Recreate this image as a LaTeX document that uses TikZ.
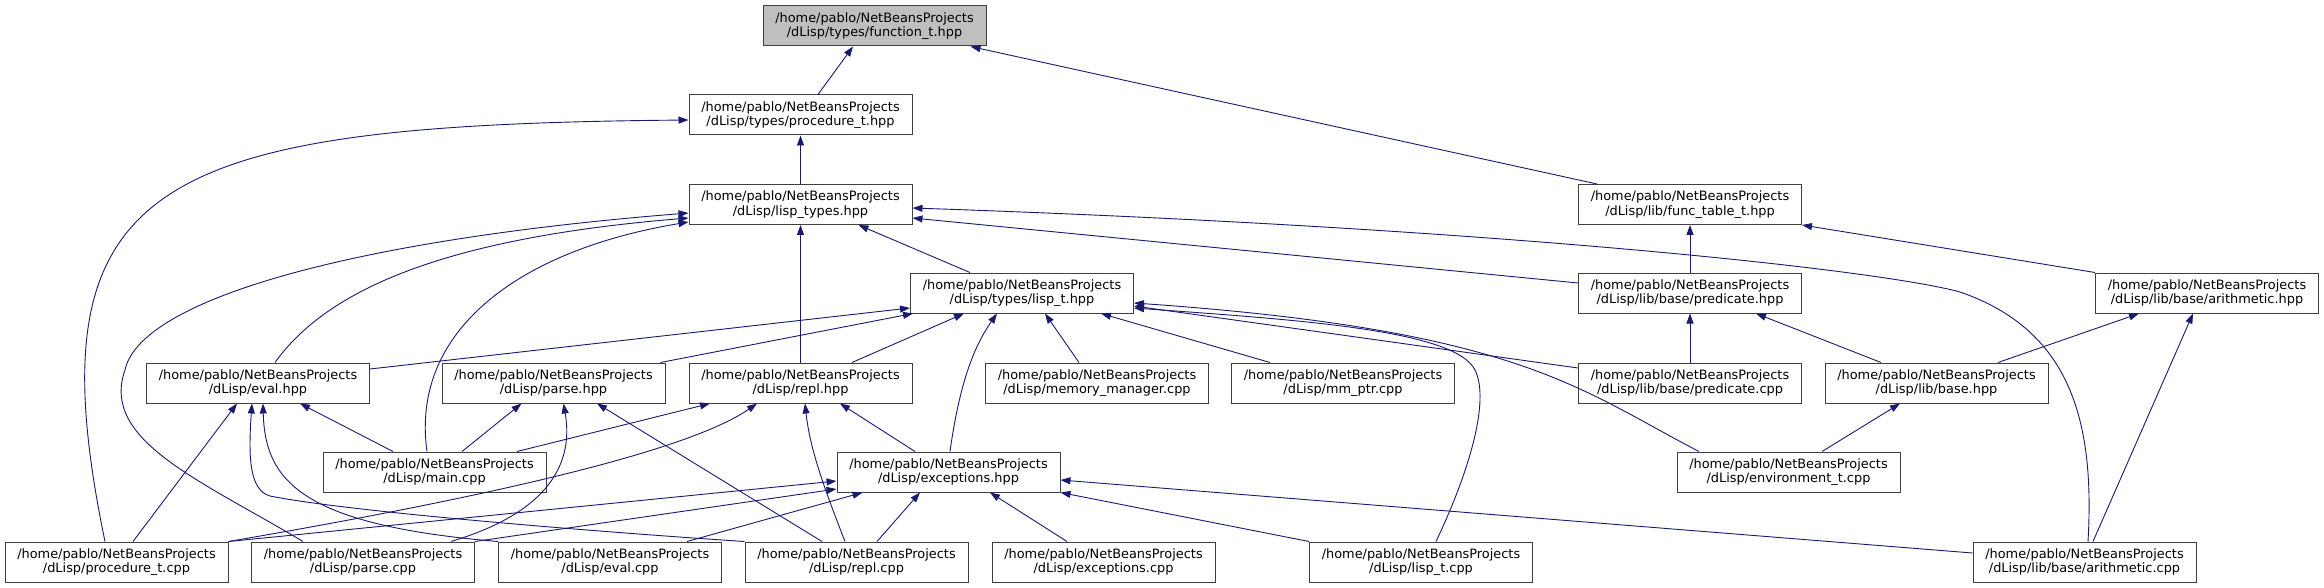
\documentclass[tikz,border=0pt]{standalone}
\usepackage{fontspec}
\setmainfont{DejaVu Sans}
\usepackage{xcolor}
\usepackage{tikz}
\usetikzlibrary{arrows.meta}

\definecolor{edgeblue}{HTML}{191970}

\begin{document}
\begin{tikzpicture}[x=1pt, y=-1pt, >={Triangle[length=10pt, width=7pt]},
    file/.style={draw=black!75, line width=1pt, fill=white, minimum width=223pt,
        minimum height=40pt, inner sep=0pt, align=center,
        font=\fontsize{12.9}{14.5}\selectfont},
    dep/.style={->, edgeblue, line width=0.9pt}]
    \useasboundingbox (0,0) rectangle (2324,588);

    % headers
    \node[file, fill=black!25] (funct) at (874.5,26) {/home/pablo/NetBeansProjects\\/dLisp/types/function\_t.hpp};
    \node[file] (proch) at (800.5,115) {/home/pablo/NetBeansProjects\\/dLisp/types/procedure\_t.hpp};
    \node[file] (types) at (800.5,204.5) {/home/pablo/NetBeansProjects\\/dLisp/lisp\_types.hpp};
    \node[file] (ftable) at (1690,204.5) {/home/pablo/NetBeansProjects\\/dLisp/lib/func\_table\_t.hpp};
    \node[file] (lispt) at (1022,293) {/home/pablo/NetBeansProjects\\/dLisp/types/lisp\_t.hpp};
    \node[file] (predh) at (1690,293) {/home/pablo/NetBeansProjects\\/dLisp/lib/base/predicate.hpp};
    \node[file] (arithh) at (2207,293) {/home/pablo/NetBeansProjects\\/dLisp/lib/base/arithmetic.hpp};
    \node[file] (evalh) at (258,383) {/home/pablo/NetBeansProjects\\/dLisp/eval.hpp};
    \node[file] (parseh) at (553.5,383) {/home/pablo/NetBeansProjects\\/dLisp/parse.hpp};
    \node[file] (replh) at (800.5,383) {/home/pablo/NetBeansProjects\\/dLisp/repl.hpp};
    \node[file] (memmgr) at (1097,383) {/home/pablo/NetBeansProjects\\/dLisp/memory\_manager.cpp};
    \node[file] (mmptr) at (1343,383) {/home/pablo/NetBeansProjects\\/dLisp/mm\_ptr.cpp};
    \node[file] (predc) at (1690,383) {/home/pablo/NetBeansProjects\\/dLisp/lib/base/predicate.cpp};
    \node[file] (baseh) at (1936.5,383) {/home/pablo/NetBeansProjects\\/dLisp/lib/base.hpp};
    \node[file] (mainc) at (434.5,472) {/home/pablo/NetBeansProjects\\/dLisp/main.cpp};
    \node[file] (excepth) at (948.5,472) {/home/pablo/NetBeansProjects\\/dLisp/exceptions.hpp};
    \node[file] (envc) at (1788.5,472) {/home/pablo/NetBeansProjects\\/dLisp/environment\_t.cpp};
    % sources
    \node[file] (procc) at (116.5,562) {/home/pablo/NetBeansProjects\\/dLisp/procedure\_t.cpp};
    \node[file] (parsec) at (363,562) {/home/pablo/NetBeansProjects\\/dLisp/parse.cpp};
    \node[file] (evalc) at (610,562) {/home/pablo/NetBeansProjects\\/dLisp/eval.cpp};
    \node[file] (replc) at (856.5,562) {/home/pablo/NetBeansProjects\\/dLisp/repl.cpp};
    \node[file] (exceptc) at (1103.5,562) {/home/pablo/NetBeansProjects\\/dLisp/exceptions.cpp};
    \node[file] (lisptc) at (1421,562) {/home/pablo/NetBeansProjects\\/dLisp/lisp\_t.cpp};
    \node[file] (arithc) at (2084.5,562) {/home/pablo/NetBeansProjects\\/dLisp/lib/base/arithmetic.cpp};

    % includes
    \draw[dep] ([xshift=17.5pt]proch.north) -- ([xshift=-21.5pt]funct.south);
    \draw[dep] ([xshift=19pt]ftable.north west) -- ([xshift=-16pt]funct.south east);
    \draw[dep] (types.north) -- (proch.south);
    \draw[dep] ([xshift=-11.5pt]procc.north) .. controls (30,180) and (150,125) .. ([yshift=-5pt]proch.west);
    \draw[dep] ([xshift=-52pt]lispt.north) -- ([xshift=-54pt]types.south east);
    \draw[dep] (replh.north) -- (types.south);
    \draw[dep] ([xshift=17pt]evalh.north) .. controls (320,300) and (420,240) .. ([yshift=-13.5pt]types.west);
    \draw[dep] ([xshift=-7.5pt]mainc.north) .. controls (410,330) and (520,250) .. ([yshift=-17.5pt]types.west);
    \draw[dep] ([xshift=-60pt]parsec.north) .. controls (200,480) and (100,440) .. (125,370)
        .. controls (140,300) and (350,240) .. ([yshift=-8.5pt]types.west);
    \draw[dep] ([yshift=10pt]predh.west) -- ([yshift=-13.5pt]types.east);
    \draw[dep] ([xshift=3.5pt]arithc.north) .. controls (2095,420) and (2070,330) .. (1960,292)
        .. controls (1880,270) and (1500,228) .. ([yshift=-3.5pt]types.east);
    \draw[dep] (predh.north) -- (ftable.south);
    \draw[dep] (arithh.north west) -- (ftable.south east);
    \draw[dep] ([yshift=14pt]evalh.east) -- ([yshift=-15pt]lispt.west);
    \draw[dep] ([xshift=-5pt]parseh.north east) -- ([xshift=3pt]lispt.south west);
    \draw[dep] ([xshift=51.5pt]replh.north) -- ([xshift=-58pt]lispt.south);
    \draw[dep] ([xshift=1.5pt]excepth.north) .. controls (960,380) and (975,345) .. ([xshift=-25pt]lispt.south);
    \draw[dep] ([xshift=-18pt]memmgr.north) -- ([xshift=23pt]lispt.south);
    \draw[dep] ([xshift=-73pt]mmptr.north) -- ([xshift=-33pt]lispt.south east);
    \draw[dep] ([yshift=15pt]predc.west) -- ([yshift=-13pt]lispt.east);
    \draw[dep] ([xshift=-89.5pt]envc.north) .. controls (1580,390) and (1520,330) .. ([yshift=-10pt]lispt.east);
    \draw[dep] ([xshift=15pt]lisptc.north) .. controls (1470,470) and (1490,400) .. (1475,370)
        .. controls (1455,330) and (1300,320) .. ([yshift=-15pt]lispt.east);
    \draw[dep] (predc.north) -- (predh.south);
    \draw[dep] ([xshift=-55.5pt]baseh.north) -- ([xshift=-46pt]predh.south east);
    \draw[dep] ([xshift=61.5pt]baseh.north) -- ([xshift=44pt]arithh.south west);
    \draw[dep] ([xshift=8.5pt]arithc.north) -- ([xshift=-14pt]arithh.south);
    \draw[dep] ([xshift=33.5pt]envc.north) -- ([xshift=-36.5pt]baseh.south);
    \draw[dep] ([xshift=-41.5pt]mainc.north) -- ([xshift=42pt]evalh.south);
    \draw[dep] ([xshift=16.5pt]procc.north) -- ([xshift=-21pt]evalh.south);
    \draw[dep] (replc.north west) .. controls (600,532) and (350,512) .. (270,496)
        .. controls (250,490) and (248,460) .. ([xshift=-6pt]evalh.south);
    \draw[dep] (evalc.north west) .. controls (300,525) and (265,480) .. ([xshift=5pt]evalh.south);
    \draw[dep] ([xshift=27.5pt]mainc.north) -- ([xshift=-32pt]parseh.south);
    \draw[dep] ([xshift=-24pt]parsec.north east) .. controls (540,515) and (575,470) .. ([xshift=10pt]parseh.south);
    \draw[dep] ([xshift=-34.5pt]replc.north) -- ([xshift=43.5pt]parseh.south);
    \draw[dep] ([xshift=82.5pt]mainc.north) -- ([xshift=-90.5pt]replh.south);
    \draw[dep] (procc.north east) .. controls (500,495) and (690,450) .. ([xshift=-43.5pt]replh.south);
    \draw[dep] ([xshift=-11.5pt]replc.north) .. controls (825,490) and (810,450) .. ([xshift=4.5pt]replh.south);
    \draw[dep] ([xshift=-33.5pt]excepth.north) -- ([xshift=39.5pt]replh.south);
    \draw[dep] (procc.north east) -- ([yshift=-9pt]excepth.west);
    \draw[dep] (parsec.north east) -- ([yshift=-17pt]excepth.west);
    \draw[dep] ([xshift=77pt]evalc.north) -- ([xshift=26pt]excepth.south west);
    \draw[dep] ([xshift=20.5pt]replc.north) -- ([xshift=-28.5pt]excepth.south);
    \draw[dep] ([xshift=-36.5pt]exceptc.north) -- ([xshift=41.5pt]excepth.south);
    \draw[dep] (lisptc.north west) -- (excepth.south east);
    \draw[dep] ([yshift=9pt]arithc.west) -- ([yshift=-8pt]excepth.east);
\end{tikzpicture}
\end{document}
